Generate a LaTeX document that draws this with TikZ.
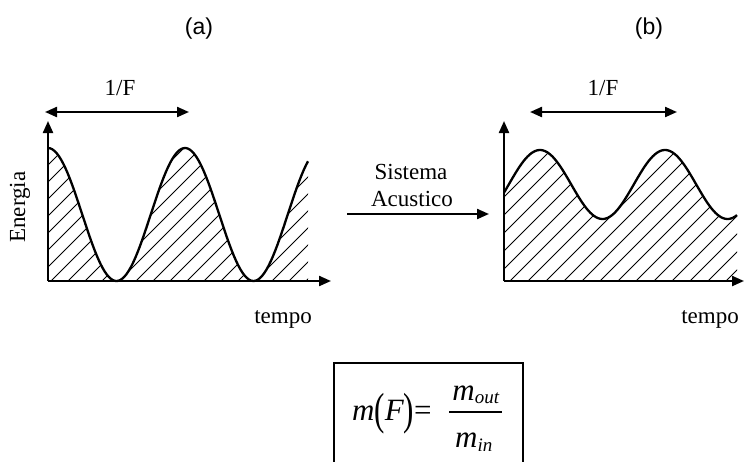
\documentclass[tikz,border=0pt]{standalone}
\usepackage{fontspec}
\setmainfont{Liberation Serif}
\newfontfamily\arialfont{Liberation Sans}
\usetikzlibrary{arrows.meta}
\begin{document}
\begin{tikzpicture}[x=1pt,y=-1pt,
  axis/.style={line width=2.2pt,-{Triangle[length=12pt,width=10pt]}},
  period/.style={line width=2.2pt,{Triangle[length=12pt,width=10pt]}-{Triangle[length=12pt,width=10pt]}},
  curve/.style={line width=2.3pt},
  hatch/.style={line width=0.9pt},
  lbl/.style={font=\fontsize{23}{27}\selectfont, inner sep=0pt},
  panel/.style={font=\arialfont\fontsize{23}{27}\selectfont, inner sep=0pt},
  frm/.style={font=\fontsize{31}{35}\selectfont\itshape, inner sep=0pt}]
\useasboundingbox (0,0) rectangle (744,461);

% panel labels
\node[panel] (pa) at (199,29) {(a)};
\node[panel] (pb) at (649,29) {(b)};

% ---------- left graph ----------
\coordinate (oa) at (48,281);
\coordinate (ya) at (48,121);
\coordinate (xa) at (331,281);
\begin{scope}
  \clip plot[domain=48:308, samples=120] (\x,{281-66.5*(1+cos((\x-48)/137*360))}) -- (308,281) -- (48,281) -- cycle;
  \foreach \k in {0,...,26} \draw[hatch] ({-102+\k*17},281) -- ++(220,-220);
\end{scope}
\draw[curve] plot[domain=48:308, samples=120] (\x,{281-66.5*(1+cos((\x-48)/137*360))});
\draw[axis] (oa) -- (ya);
\draw[axis] (oa) -- (xa);
\coordinate (pa1) at (45,112);
\coordinate (pa2) at (189,112);
\draw[period] (pa1) -- (pa2);
\node[lbl] (fa) at (120,88) {1/F};
\node[lbl, rotate=90] (en) at (20,207) {Energia};
\node[lbl] (ta) at (283,319) {tempo};

% ---------- middle ----------
\node[lbl] (sis) at (411,172) {Sistema};
\node[lbl] (acu) at (412,199) {Acustico};
\coordinate (s1) at (347,214);
\coordinate (s2) at (489,214);
\draw[axis] (s1) -- (s2);

% ---------- right graph ----------
\coordinate (ob) at (504,281);
\coordinate (yb) at (504,121);
\coordinate (xb) at (744,281);
\begin{scope}
  \clip plot[domain=504:737, samples=120] (\x,{184.5-34.5*cos((\x-540)/125*360)}) -- (737,281) -- (504,281) -- cycle;
  \foreach \k in {0,...,26} \draw[hatch] ({330+\k*18},281) -- ++(220,-220);
\end{scope}
\draw[curve] plot[domain=504:737, samples=120] (\x,{184.5-34.5*cos((\x-540)/125*360)});
\draw[axis] (ob) -- (yb);
\draw[axis] (ob) -- (xb);
\coordinate (pb1) at (530,112);
\coordinate (pb2) at (677,112);
\draw[period] (pb1) -- (pb2);
\node[lbl] (fb) at (603,88) {1/F};
\node[lbl] (tb) at (710,319) {tempo};

% ---------- formula ----------
\draw[line width=1.1pt] (334,462) -- (334,363) -- (523,363) -- (523,462);
\node[frm, anchor=base west] (mf) at (352,420) {m\raisebox{-4pt}{\upshape\scalebox{1}[1.45]{(}}F\raisebox{-4pt}{\upshape\scalebox{1}[1.45]{)}}\upshape=};
\draw[line width=1.1pt] (449,412) -- (502,412);
\node[frm, anchor=base] (num) at (476,400) {m\textsubscript{\fontsize{19}{21}\selectfont out}};
\node[frm, anchor=base] (den) at (474,447) {m\textsubscript{\fontsize{19}{21}\selectfont in}};
\end{tikzpicture}
\end{document}
